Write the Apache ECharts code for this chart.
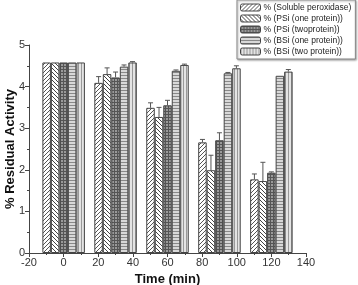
<!DOCTYPE html>
<html><head><meta charset="utf-8">
<script src="https://cdn.jsdelivr.net/npm/echarts@6/dist/echarts.min.js"></script>
<style>html,body{margin:0;padding:0;background:#fff}#c{width:358px;height:285px}</style>
</head><body><div id="c"></div>
<script>
var times = [0, 30, 60, 90, 120];
var seriesNames = ['% (Soluble peroxidase)', '% (PSi (one protein))', '% (PSi (twoprotein))', '% (BSi (one protein))', '% (BSi (two protein))'];
var solubleVals = [4.58, 4.09, 3.49, 2.66, 1.77];
var psiOneVals = [4.58, 4.30, 3.27, 1.99, 1.73];
var psiTwoVals = [4.58, 4.22, 3.55, 2.71, 1.93];
var bsiOneVals = [4.58, 4.48, 4.38, 4.32, 4.26];
var bsiTwoVals = [4.58, 4.58, 4.52, 4.44, 4.36];
var solubleErr = [0, 0.15, 0.12, 0.07, 0.13];
var psiOneErr = [0, 0.15, 0.23, 0.36, 0.45];
var psiTwoErr = [0, 0.13, 0.12, 0.18, 0.02];
var bsiOneErr = [0, 0.04, 0.02, 0.02, 0.01];
var bsiTwoErr = [0, 0.02, 0.02, 0.06, 0.05];
var xTicks = [-20, 0, 20, 40, 60, 80, 100, 120, 140];
var yTicks = [0, 1, 2, 3, 4, 5];

var allVals = [solubleVals, psiOneVals, psiTwoVals, bsiOneVals, bsiTwoVals];
var allErr = [solubleErr, psiOneErr, psiTwoErr, bsiOneErr, bsiTwoErr];
var barUnits = 4.9; // bar width in x-axis units

function pattern(type) {
  var c = document.createElement('canvas');
  var s = 4; c.width = s; c.height = s;
  var g = c.getContext('2d');
  if (type === 0) {
    g.fillStyle = '#fff'; g.fillRect(0,0,s,s);
    g.strokeStyle = '#555'; g.lineWidth = 1;
    g.beginPath(); g.moveTo(0, s); g.lineTo(s, 0); g.moveTo(-1,1); g.lineTo(1,-1); g.moveTo(s-1,s+1); g.lineTo(s+1,s-1); g.stroke();
  } else if (type === 1) {
    g.fillStyle = '#fff'; g.fillRect(0,0,s,s);
    g.strokeStyle = '#444'; g.lineWidth = 1;
    g.beginPath(); g.moveTo(0, 0); g.lineTo(s, s); g.moveTo(-1,s-1); g.lineTo(1,s+1); g.moveTo(s-1,-1); g.lineTo(s+1,1); g.stroke();
  } else if (type === 2) {
    c.width = 3; c.height = 3; g = c.getContext('2d');
    g.fillStyle = '#9a9a9a'; g.fillRect(0,0,3,3);
    g.fillStyle = '#555'; g.fillRect(0,0,3,1); g.fillRect(0,0,1,3);
  } else if (type === 3) {
    c.width = 3; c.height = 3; g = c.getContext('2d');
    g.fillStyle = '#d8d8d8'; g.fillRect(0,0,3,3);
    g.fillStyle = '#888'; g.fillRect(0,0,3,1);
  } else {
    c.width = 3; c.height = 3; g = c.getContext('2d');
    g.fillStyle = '#e4e4e4'; g.fillRect(0,0,3,3);
    g.fillStyle = '#999'; g.fillRect(0,0,1,3);
  }
  return {image: c, repeat: 'repeat'};
}

var series = [];
for (var i = 0; i < 5; i++) {
  series.push({
    name: seriesNames[i], type: 'bar', barWidth: 8.5, barGap: '0%',
    data: times.map(function (t, k) { return [t, allVals[i][k]]; }),
    itemStyle: {color: pattern(i), borderColor: '#444', borderWidth: 1},
    emphasis: {disabled: true}, z: 2
  });
}
for (var j = 0; j < 5; j++) {
  (function (i) {
    series.push({
      type: 'custom', silent: true, z: 3,
      data: times.map(function (t, k) { return [t + (i - 2) * barUnits, allVals[i][k], allVals[i][k] + allErr[i][k]]; }),
      renderItem: function (params, api) {
        var lo = api.coord([api.value(0), api.value(1)]);
        var hi = api.coord([api.value(0), api.value(2)]);
        if (hi[1] >= lo[1] - 0.5) return {type: 'group', children: []};
        return {type: 'group', children: [
          {type: 'line', shape: {x1: lo[0], y1: lo[1], x2: hi[0], y2: hi[1]}, style: {stroke: '#555', lineWidth: 1}},
          {type: 'line', shape: {x1: hi[0] - 2.5, y1: hi[1], x2: hi[0] + 2.5, y2: hi[1]}, style: {stroke: '#555', lineWidth: 1}}
        ]};
      }
    });
  })(j);
}

var chart = echarts.init(document.getElementById('c'));
chart.setOption({
  animation: false,
  backgroundColor: '#fff',
  grid: {left: 29, right: 52, top: 45, bottom: 32, containLabel: false, outerBoundsMode: 'none'},
  legend: {
    data: seriesNames, orient: 'vertical', left: 237, top: 0,
    itemWidth: 20, itemHeight: 7, itemGap: 2, padding: [3, 4, 3, 3],
    borderColor: '#888', borderWidth: 1, backgroundColor: '#fff',
    shadowColor: 'rgba(0,0,0,0.35)', shadowOffsetX: 1, shadowOffsetY: 1, shadowBlur: 2,
    textStyle: {fontSize: 8.5, fontFamily: 'Liberation Sans, Arial', color: '#222', padding: [0,0,0,-2]},
    itemStyle: {borderColor: '#444', borderWidth: 1}
  },
  xAxis: {
    type: 'value', min: xTicks[0], max: xTicks[xTicks.length - 1], interval: 20,
    name: 'Time (min)', nameLocation: 'middle', nameGap: 17,
    nameTextStyle: {fontSize: 13, fontWeight: 'bold', fontFamily: 'Liberation Sans, Arial', color: '#111'},
    axisLine: {show: true, onZero: false, lineStyle: {color: '#444', width: 1}},
    axisTick: {show: true, inside: false, length: 4, lineStyle: {color: '#444'}},
    minorTick: {show: true, splitNumber: 2, length: 2, lineStyle: {color: '#444'}},
    axisLabel: {fontSize: 11, fontFamily: 'Liberation Sans, Arial', color: '#333', margin: 4},
    splitLine: {show: false}
  },
  yAxis: {
    type: 'value', min: yTicks[0], max: yTicks[yTicks.length - 1], interval: 1,
    name: '% Residual Activity', nameLocation: 'middle', nameGap: 12,
    nameTextStyle: {fontSize: 13, fontWeight: 'bold', fontFamily: 'Liberation Sans, Arial', color: '#111'},
    nameMoveOverlap: false,
    axisLine: {show: true, onZero: false, lineStyle: {color: '#444', width: 1}},
    axisTick: {show: true, inside: false, length: 4, lineStyle: {color: '#444'}},
    minorTick: {show: true, splitNumber: 2, length: 2, lineStyle: {color: '#444'}},
    axisLabel: {fontSize: 11, fontFamily: 'Liberation Sans, Arial', color: '#333', margin: 4},
    splitLine: {show: false}
  },
  series: series
});
</script></body></html>
